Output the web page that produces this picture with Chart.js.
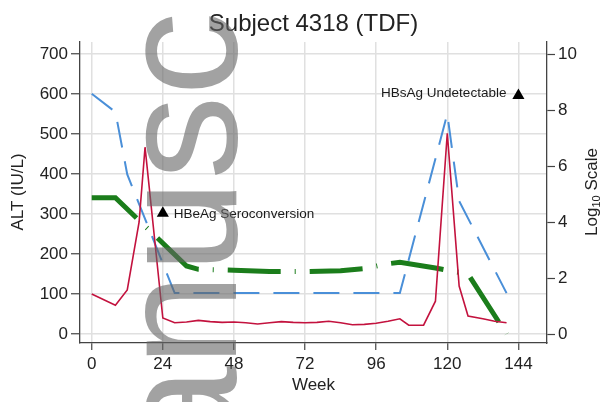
<!DOCTYPE html>
<html>
<head>
<meta charset="utf-8">
<script src="https://cdn.jsdelivr.net/npm/chart.js@4.4.1/dist/chart.umd.min.js"></script>
<style>
  html, body { margin: 0; padding: 0; background: #fff; }
  #wrap { width: 605px; height: 402px; }
</style>
</head>
<body>
<div id="wrap"><canvas id="chart" width="605" height="402"></canvas></div>
<script>
// ALT (IU/L), left axis
const altWeeks = [0, 8, 12, 16, 18, 24, 28, 32, 36, 40, 44, 48, 52, 56, 60, 64, 68, 72, 76, 80, 84, 88, 92, 96, 100, 104, 107, 112, 116, 120, 124, 127, 132, 136, 140];
const altValues = [100, 72, 110, 280, 467, 40, 28, 30, 34, 31, 29, 30, 28, 25, 28, 31, 29, 28, 29, 32, 28, 23, 24, 27, 32, 38, 22, 22, 82, 502, 120, 45, 38, 32, 28];

// HBV DNA, log10 (right axis)
const dnaWeeks = [0, 8, 12, 28, 104, 120, 124, 140];
const dnaLog = [8.58, 7.93, 5.7, 1.46, 1.46, 7.86, 4.75, 1.46];

// HBsAg, log10 (right axis)
const sagWeeks = [0, 8, 32, 36, 48, 60, 72, 84, 92, 100, 104, 116, 127, 140];
const sagLog = [4.87, 4.87, 2.43, 2.31, 2.28, 2.23, 2.23, 2.26, 2.34, 2.51, 2.56, 2.36, 2.14, 0.0];

// event markers
const eventWeeks = [24, 144];
const eventAlt = [302, 596];
const eventLabels = ["HBeAg Seroconversion", "HBsAg Undetectable"];

const weekTicks = [0, 24, 48, 72, 96, 120, 144];
const altTicks = [0, 100, 200, 300, 400, 500, 600, 700];
const logTicks = [0, 2, 4, 6, 8, 10];

const FAM = "'Liberation Sans', Arial, Helvetica, sans-serif";
const INK = "#222";

function pts(xs, ys) {
  return xs.map((x, i) => ({ x: x, y: ys[i] }));
}

function drawRotated(ctx, x, y, fn) {
  ctx.save();
  ctx.translate(x, y);
  ctx.rotate(-Math.PI / 2);
  fn();
  ctx.restore();
}

const overlay = {
  id: "overlay",
  afterDatasetsDraw(chart) {
    const { ctx, scales } = chart;
    ctx.save();
    ctx.fillStyle = "#1a1a1a";
    ctx.textBaseline = "middle";
    ctx.font = "13.5px " + FAM;
    eventWeeks.forEach((w, i) => {
      const px = scales.x.getPixelForValue(w);
      const py = scales.y.getPixelForValue(eventAlt[i]);
      if (w > 100) {
        ctx.textAlign = "right";
        ctx.fillText(eventLabels[i], px - 12, py - 2);
      } else {
        ctx.textAlign = "left";
        ctx.fillText(eventLabels[i], px + 11, py + 1);
      }
    });
    ctx.restore();
  },
  afterDraw(chart) {
    const { ctx, chartArea } = chart;
    const cx = (chartArea.left + chartArea.right) / 2;
    const cy = 192;
    ctx.save();
    ctx.fillStyle = INK;
    ctx.textAlign = "center";
    ctx.textBaseline = "middle";

    ctx.font = "24px " + FAM;
    ctx.fillText("Subject 4318 (TDF)", cx, 24);

    ctx.font = "17px " + FAM;
    ctx.fillText("Week", cx, 385);

    drawRotated(ctx, 18, cy, () => {
      ctx.fillText("ALT (IU/L)", 0, 0);
    });

    drawRotated(ctx, 592, cy, () => {
      const big = "17px " + FAM, small = "11px " + FAM;
      ctx.font = big;
      const w1 = ctx.measureText("Log").width;
      const w3 = ctx.measureText(" Scale").width;
      ctx.font = small;
      const w2 = ctx.measureText("10").width;
      let x0 = -(w1 + w2 + w3) / 2;
      ctx.textAlign = "left";
      ctx.font = big;
      ctx.fillText("Log", x0, 0);
      ctx.font = small;
      ctx.fillText("10", x0 + w1, 5);
      ctx.font = big;
      ctx.fillText(" Scale", x0 + w1 + w2, 0);
    });

    // manuscript watermark
    drawRotated(ctx, 236, 460, () => {
      ctx.font = "168px " + FAM;
      ctx.textAlign = "left";
      ctx.textBaseline = "alphabetic";
      ctx.fillStyle = "rgba(100,100,100,0.6)";
      ctx.fillText("anusc", 0, 0);
    });
    ctx.restore();
  }
};

new Chart(document.getElementById("chart"), {
  type: "line",
  data: {
    datasets: [
      {
        type: "scatter",
        label: "Events",
        data: pts(eventWeeks, eventAlt),
        yAxisID: "y",
        pointStyle: "triangle",
        pointRadius: 7,
        backgroundColor: "#000",
        borderColor: "#000",
        borderWidth: 0,
        showLine: false,
      },
      {
        label: "ALT",
        data: pts(altWeeks, altValues),
        yAxisID: "y",
        borderColor: "#c3123e",
        borderWidth: 1.6,
        pointRadius: 0,
        tension: 0,
      },
      {
        label: "HBsAg",
        data: pts(sagWeeks, sagLog),
        yAxisID: "y2",
        borderColor: "#1b7d1b",
        borderWidth: 5,
        borderDash: [53, 14, 1, 14],
        pointRadius: 0,
        tension: 0,
      },
      {
        label: "HBV DNA",
        data: pts(dnaWeeks, dnaLog),
        yAxisID: "y2",
        borderColor: "#4a8fd8",
        borderWidth: 2,
        borderDash: [26, 14],
        pointRadius: 0,
        tension: 0,
      },
    ],
  },
  options: {
    responsive: false,
    animation: false,
    devicePixelRatio: 1,
    layout: { padding: { top: 42, left: 0, right: 0, bottom: 0 } },
    plugins: {
      legend: { display: false },
      tooltip: { enabled: false },
      title: { display: false },
    },
    scales: {
      x: {
        type: "linear",
        min: -3.95,
        max: 153.65,
        afterBuildTicks: (s) => { s.ticks = weekTicks.map((v) => ({ value: v })); },
        afterFit: (s) => { s.height = 59; },
        grid: { color: "#e0e0e0", lineWidth: 1.5, tickColor: "#444", tickLength: 7, tickWidth: 1.2 },
        border: { display: true, color: "#444", width: 1.3 },
        ticks: { color: INK, font: { family: FAM, size: 17 }, padding: 4, maxRotation: 0 },
      },
      y: {
        position: "left",
        min: -22.5,
        max: 730,
        afterBuildTicks: (s) => { s.ticks = altTicks.map((v) => ({ value: v })); },
        afterFit: (s) => { s.width = 80; },
        grid: { color: "#e0e0e0", lineWidth: 1.5, tickColor: "#444", tickLength: 9, tickWidth: 1.2 },
        border: { display: true, color: "#444", width: 1.3 },
        ticks: { color: INK, font: { family: FAM, size: 17 }, padding: 3 },
      },
      y2: {
        position: "right",
        min: -22.5 / 70,
        max: 730 / 70,
        afterBuildTicks: (s) => { s.ticks = logTicks.map((v) => ({ value: v })); },
        afterFit: (s) => { s.width = 58; },
        grid: { drawOnChartArea: false, tickColor: "#444", tickLength: 8, tickWidth: 1.2 },
        border: { display: true, color: "#444", width: 1.3 },
        ticks: { color: INK, font: { family: FAM, size: 17 }, padding: 3 },
      },
    },
  },
  plugins: [overlay],
});
</script>
</body>
</html>
